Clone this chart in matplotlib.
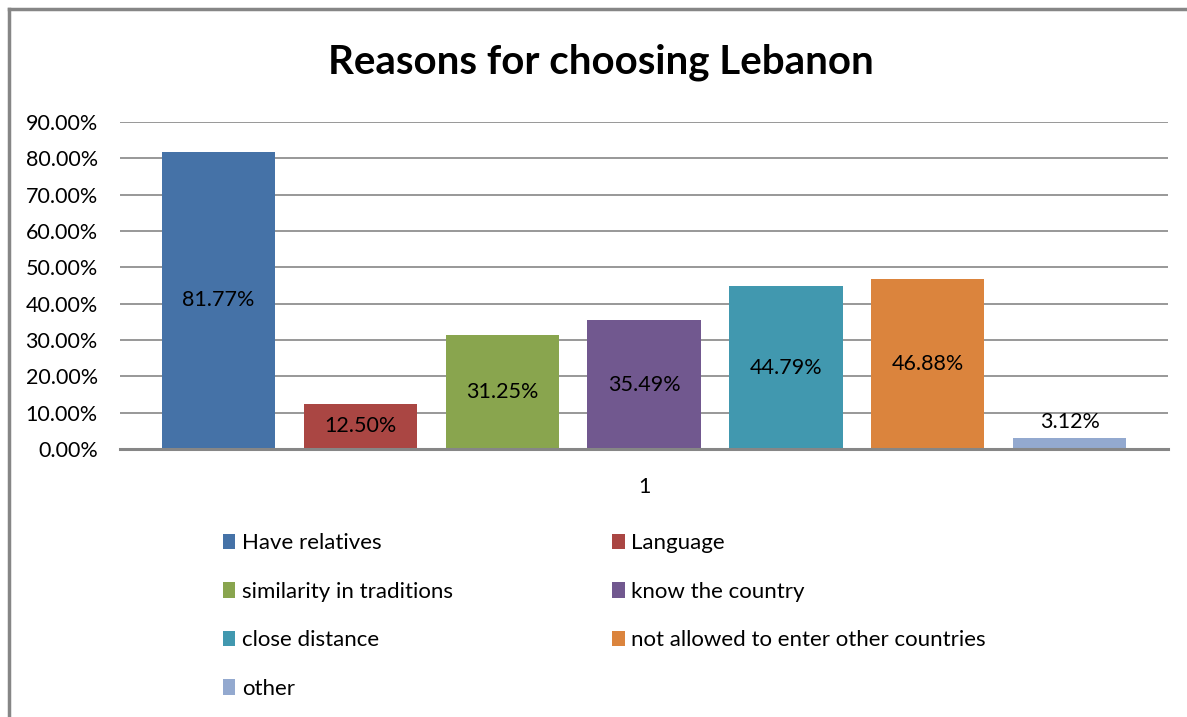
import matplotlib
matplotlib.use("Agg")
import matplotlib.pyplot as plt
from matplotlib.patches import Patch
from matplotlib.ticker import FuncFormatter

categories = ["Have relatives", "Language", "similarity in traditions", "know the country",
              "close distance", "not allowed to enter other countries", "other"]
values = [81.77, 12.50, 31.25, 35.49, 44.79, 46.88, 3.12]
colors = ["#4572A7", "#AA4643", "#89A54E", "#71588F", "#4198AF", "#DB843D", "#93A9CF"]
yticks = [0, 10, 20, 30, 40, 50, 60, 70, 80, 90]

plt.rcParams['font.family'] = ['Lato', 'DejaVu Sans']

fig = plt.figure(figsize=(11.87, 7.17), dpi=100)
ax = fig.add_axes([0.1011, 0.3738, 0.8830, 0.456])

x = list(range(len(values)))
bars = ax.bar(x, values, width=0.8, color=colors, zorder=3)

ax.set_xlim(-0.695, 6.695)
ax.set_ylim(0, 90)
ax.set_yticks(yticks)
ax.yaxis.set_major_formatter(FuncFormatter(lambda v, p: "%.2f%%" % v))
ax.tick_params(axis='y', length=0, labelsize=15.5, pad=16, labelcolor="#000000")
ax.set_xticks([])
ax.grid(axis='y', color="#868686", linewidth=1.2, zorder=0)
for s in ["top", "right", "left"]:
    ax.spines[s].set_visible(False)
ax.spines["bottom"].set_color("#868686")
ax.spines["bottom"].set_linewidth(2.2)
ax.spines["bottom"].set_zorder(4)

# data labels: centred inside the bar, above it when the bar is too short
for xi, v in zip(x, values):
    if v < 8:
        ax.text(xi, v + 1.5, "%.2f%%" % v, ha="center", va="bottom", fontsize=15.5)
    else:
        ax.text(xi, v / 2, "%.2f%%" % v, ha="center", va="center", fontsize=15.5)

# single category label under the axis
ax.text(0.5, -0.115, "1", transform=ax.transAxes, ha="center", va="center", fontsize=15.5)

fig.text(0.506, 0.913, "Reasons for choosing Lebanon", ha="center", va="center",
         fontsize=29, fontweight="bold")

handles = [Patch(facecolor=c) for c in colors]
left_idx = [0, 2, 4, 6]
right_idx = [1, 3, 5]
common = dict(frameon=False, fontsize=16, handlelength=0.55, handleheight=0.7,
              handletextpad=0.3, labelspacing=1.28, borderaxespad=0, borderpad=0)
fig.legend([handles[i] for i in left_idx], [categories[i] for i in left_idx],
           loc="upper left", bbox_to_anchor=(0.188, 0.256), **common)
fig.legend([handles[i] for i in right_idx], [categories[i] for i in right_idx],
           loc="upper left", bbox_to_anchor=(0.516, 0.256), **common)

# chart border (top and left edges visible)
fig.add_artist(plt.Line2D([0.0076, 0.9985], [0.988, 0.988], color="#868686", linewidth=2.5,
                          transform=fig.transFigure))
fig.add_artist(plt.Line2D([0.0076, 0.0076], [0.0, 0.988], color="#868686", linewidth=2.5,
                          transform=fig.transFigure))

fig.savefig("out.png", dpi=100)
